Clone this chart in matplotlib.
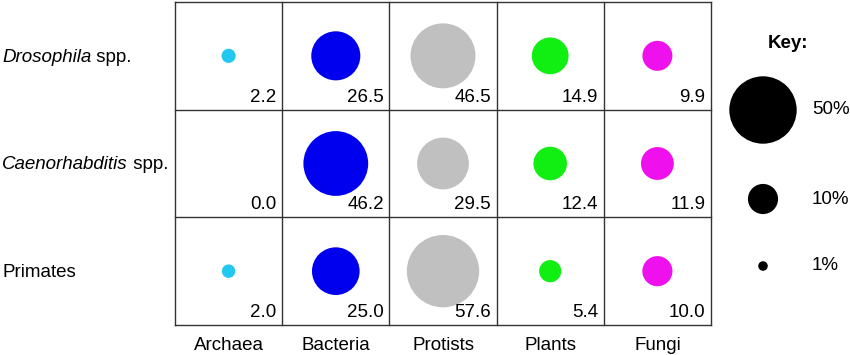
"""
Bubble grid: share of reads per taxon group for three host groups
"""
import numpy as np
import matplotlib
matplotlib.use("Agg")
import matplotlib.pyplot as plt
from matplotlib.transforms import offset_copy

plt.rcParams['font.family'] = ['Liberation Sans', 'DejaVu Sans']

# data
hosts = [("Drosophila", " spp."), ("Caenorhabditis", " spp."), ("", "Primates")]
groups = ["Archaea", "Bacteria", "Protists", "Plants", "Fungi"]
drosophila = [2.2, 26.5, 46.5, 14.9, 9.9]
caenorhabditis = [0.0, 46.2, 29.5, 12.4, 11.9]
primates = [2.0, 25.0, 57.6, 5.4, 10.0]
key_values = [50, 10, 1]
key_labels = ["50%", "10%", "1%"]

colors = ["#22c8f0", "#0000ee", "#c0c0c0", "#11ee11", "#ee11ee"]
SIZE = 47.1  # marker area (pt^2) per percent

values = np.array([drosophila, caenorhabditis, primates])

fig = plt.figure(figsize=(8.5, 3.55), dpi=100)
ax = fig.add_axes([175 / 850, 30 / 355, 536 / 850, 323 / 355])
ax.set_xlim(0, len(groups))
ax.set_ylim(len(hosts), 0)

for i, row in enumerate(values):
    for j, v in enumerate(row):
        if v > 0:
            ax.scatter(j + 0.5, i + 0.5, s=v * SIZE, color=colors[j],
                       edgecolors='none', zorder=3)
        ax.annotate(f"{v:.1f}", xy=(j + 1, i + 1), xytext=(-4, 3),
                    textcoords='offset points', ha='right', va='bottom',
                    fontsize=13.5)

# grid lines
for x in range(len(groups) + 1):
    ax.axvline(x, color='#333333', lw=1.0, clip_on=False)
for y in range(len(hosts) + 1):
    ax.axhline(y, color='#333333', lw=1.0, clip_on=False)

ax.set_xticks(np.arange(len(groups)) + 0.5)
ax.set_xticklabels(groups, fontsize=13.5)
ax.set_yticks([])
ax.tick_params(axis='x', length=0, pad=9)
for s in ax.spines.values():
    s.set_visible(False)

# row labels: italic genus + upright suffix
renderer = fig.canvas.get_renderer()
for i, (genus, rest) in enumerate(hosts):
    y = 1 - (57 + i * 107.7) / 355
    t = fig.text(2 / 850, y, genus, ha='left', va='center', fontsize=13.5,
                 fontstyle='italic')
    bb = t.get_window_extent(renderer)
    x2 = bb.x1 / fig.bbox.width if genus else 2 / 850
    fig.text(x2, y, rest, ha='left', va='center', fontsize=13.5)

# key
kax = fig.add_axes([720 / 850, 0, 130 / 850, 1])
kax.set_xlim(0, 130)
kax.set_ylim(355, 0)
kax.axis('off')
kax.text(68, 43, "Key:", ha='center', va='center', fontsize=13.5,
         fontweight='bold')
key_y = [110, 199, 266]
for v, lab, y in zip(key_values, key_labels, key_y):
    kax.scatter(43, y, s=v * SIZE, color='black', edgecolors='none')
    kax.text(92, y, lab, ha='left', va='center', fontsize=13.5)

fig.savefig("out.png", dpi=100)
